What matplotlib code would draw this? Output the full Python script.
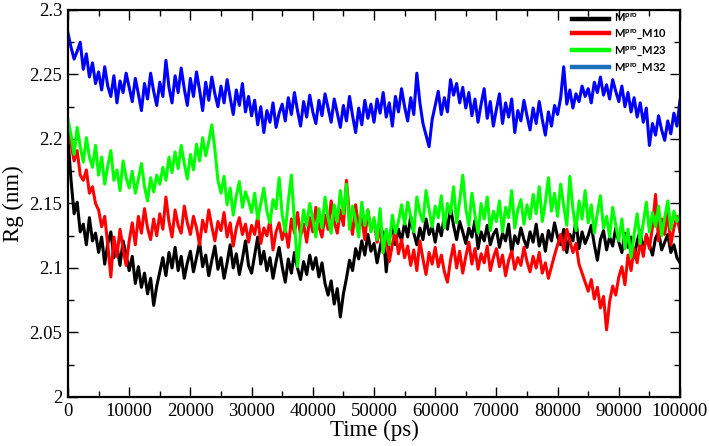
import numpy as np
import matplotlib.pyplot as plt
from matplotlib.lines import Line2D
from matplotlib.ticker import MultipleLocator, FuncFormatter

# time axis, one frame every 500 ps
time_ps = np.arange(0, 100001, 500)

rg_mpro = [
    2.200, 2.168, 2.142, 2.151, 2.128, 2.134, 2.118, 2.139, 2.121, 2.127,
    2.112, 2.124, 2.103, 2.119, 2.128, 2.108, 2.117, 2.102, 2.121, 2.110,
    2.098, 2.109, 2.088, 2.101, 2.085, 2.096, 2.080, 2.092, 2.071, 2.086,
    2.097, 2.108, 2.094, 2.112, 2.100, 2.116, 2.098, 2.109, 2.092, 2.104,
    2.113, 2.097, 2.108, 2.120, 2.101, 2.110, 2.094, 2.106, 2.117, 2.099,
    2.108, 2.092, 2.104, 2.118, 2.100, 2.111, 2.095, 2.107, 2.121, 2.102,
    2.096, 2.110, 2.124, 2.103, 2.113, 2.098, 2.108, 2.092, 2.105, 2.116,
    2.101, 2.089, 2.107, 2.096, 2.112, 2.100, 2.091, 2.105, 2.095, 2.110,
    2.099, 2.108, 2.093, 2.104, 2.088, 2.079, 2.090, 2.072, 2.084, 2.062,
    2.080, 2.092, 2.106, 2.098, 2.115, 2.107, 2.121, 2.110, 2.126, 2.113,
    2.119, 2.104, 2.116, 2.128, 2.097, 2.122, 2.134, 2.118, 2.130, 2.121,
    2.135, 2.124, 2.140, 2.127, 2.118, 2.131, 2.122, 2.138, 2.126, 2.132,
    2.120, 2.134, 2.125, 2.141, 2.130, 2.147, 2.133, 2.122, 2.136, 2.128,
    2.119, 2.131, 2.124, 2.137, 2.115, 2.128, 2.121, 2.133, 2.118, 2.126,
    2.130, 2.116, 2.127, 2.121, 2.134, 2.112, 2.125, 2.119, 2.131, 2.122,
    2.116, 2.128, 2.120, 2.134, 2.117, 2.126, 2.113, 2.129, 2.121, 2.135,
    2.124, 2.118, 2.130, 2.112, 2.126, 2.121, 2.137, 2.115, 2.128, 2.119,
    2.125, 2.133, 2.118, 2.106, 2.122, 2.129, 2.114, 2.124, 2.117, 2.131,
    2.120, 2.112, 2.127, 2.116, 2.124, 2.108, 2.121, 2.129, 2.113, 2.125,
    2.118, 2.110, 2.123, 2.128, 2.114, 2.120, 2.126, 2.112, 2.118, 2.108,
    2.104,
]

rg_m10 = [
    2.212, 2.196, 2.183, 2.191, 2.172, 2.168, 2.176, 2.158, 2.163, 2.150,
    2.145, 2.132, 2.140, 2.118, 2.093, 2.124, 2.109, 2.130, 2.115, 2.102,
    2.121, 2.135, 2.118, 2.140, 2.127, 2.146, 2.131, 2.122, 2.138, 2.125,
    2.142, 2.130, 2.155, 2.136, 2.124, 2.145, 2.133, 2.127, 2.148, 2.135,
    2.126, 2.140, 2.131, 2.118, 2.137, 2.128, 2.145, 2.132, 2.121, 2.136,
    2.129, 2.143, 2.124, 2.135, 2.117, 2.131, 2.139, 2.126, 2.134, 2.120,
    2.133, 2.126, 2.140, 2.119, 2.131, 2.125, 2.137, 2.114, 2.128, 2.135,
    2.122, 2.131, 2.116, 2.138, 2.127, 2.143, 2.125, 2.134, 2.120, 2.139,
    2.128, 2.147, 2.132, 2.124, 2.141, 2.130, 2.152, 2.136, 2.127, 2.145,
    2.133, 2.168, 2.140, 2.126, 2.149, 2.131, 2.138, 2.122, 2.145, 2.129,
    2.137, 2.120, 2.131, 2.112, 2.126, 2.105, 2.118, 2.129, 2.111, 2.122,
    2.108, 2.117, 2.102, 2.114, 2.098, 2.121, 2.107, 2.095, 2.112, 2.103,
    2.116, 2.101, 2.110, 2.097, 2.089, 2.106, 2.118, 2.100, 2.113, 2.096,
    2.109, 2.120, 2.103, 2.115, 2.099, 2.111, 2.104, 2.117, 2.098, 2.108,
    2.115, 2.101, 2.110, 2.094, 2.106, 2.113, 2.099, 2.108, 2.102, 2.116,
    2.105, 2.097, 2.109, 2.100, 2.112, 2.096, 2.104, 2.092, 2.101, 2.110,
    2.118, 2.126, 2.114, 2.130, 2.121, 2.112, 2.119, 2.103, 2.096, 2.089,
    2.082, 2.091, 2.076, 2.085, 2.069, 2.078, 2.052, 2.074, 2.086, 2.079,
    2.093, 2.101, 2.087, 2.110, 2.098, 2.115, 2.104, 2.121, 2.109, 2.126,
    2.115, 2.132, 2.157, 2.121, 2.138, 2.126, 2.144, 2.118, 2.131, 2.140,
    2.128,
]

rg_m23 = [
    2.215, 2.203, 2.188, 2.209, 2.194, 2.182, 2.201, 2.186, 2.178, 2.195,
    2.172, 2.186, 2.165, 2.179, 2.191, 2.168, 2.176, 2.160, 2.183, 2.170,
    2.162, 2.175, 2.158, 2.169, 2.181, 2.163, 2.152, 2.170, 2.159, 2.172,
    2.165, 2.178, 2.168, 2.186, 2.174, 2.190, 2.177, 2.195, 2.181, 2.169,
    2.188, 2.176, 2.196, 2.183, 2.201, 2.187, 2.198, 2.211, 2.192, 2.168,
    2.158, 2.171, 2.149, 2.162, 2.141, 2.156, 2.167, 2.147, 2.159, 2.152,
    2.143, 2.158, 2.138, 2.150, 2.162, 2.144, 2.135, 2.153, 2.146, 2.170,
    2.141, 2.128, 2.152, 2.172, 2.135, 2.101, 2.126, 2.145, 2.133, 2.150,
    2.138, 2.124, 2.146, 2.131, 2.155, 2.139, 2.127, 2.149, 2.136, 2.160,
    2.142, 2.165, 2.130, 2.148, 2.137, 2.124, 2.151, 2.133, 2.145, 2.128,
    2.139, 2.122, 2.146, 2.112, 2.130, 2.118, 2.141, 2.127, 2.136, 2.149,
    2.134, 2.151, 2.140, 2.128, 2.155, 2.143, 2.136, 2.160, 2.145, 2.132,
    2.148, 2.139, 2.156, 2.131, 2.150, 2.142, 2.163, 2.135, 2.152, 2.172,
    2.146, 2.133, 2.158, 2.141, 2.127, 2.150, 2.138, 2.155, 2.129, 2.144,
    2.136, 2.152, 2.128, 2.147, 2.139, 2.160, 2.131, 2.145, 2.153, 2.134,
    2.149, 2.138, 2.157, 2.142, 2.163, 2.136, 2.151, 2.170, 2.144, 2.158,
    2.140, 2.165, 2.148, 2.133, 2.171, 2.146, 2.129, 2.152, 2.138, 2.160,
    2.135, 2.149, 2.127, 2.143, 2.156, 2.131, 2.140, 2.124, 2.147, 2.133,
    2.121, 2.138, 2.115, 2.130, 2.108, 2.126, 2.142, 2.119, 2.135, 2.151,
    2.128, 2.143, 2.132, 2.148, 2.125, 2.139, 2.152, 2.130, 2.144, 2.136,
    2.141,
]

rg_m32 = [
    2.282, 2.271, 2.262, 2.268, 2.275, 2.254, 2.266, 2.248, 2.259, 2.243,
    2.252, 2.238, 2.256, 2.241, 2.233, 2.249, 2.228, 2.245, 2.236, 2.251,
    2.240, 2.229, 2.247, 2.235, 2.222, 2.243, 2.231, 2.251, 2.237, 2.226,
    2.244, 2.233, 2.261, 2.240, 2.228, 2.249, 2.236, 2.255, 2.239, 2.226,
    2.247, 2.233, 2.252, 2.238, 2.222, 2.244, 2.230, 2.248, 2.235, 2.225,
    2.241, 2.228, 2.246, 2.232, 2.219, 2.238, 2.226, 2.243, 2.221, 2.233,
    2.218, 2.230, 2.211, 2.225, 2.205, 2.222, 2.213, 2.228, 2.209, 2.220,
    2.227, 2.214, 2.232, 2.219, 2.236, 2.222, 2.210, 2.229, 2.217, 2.234,
    2.221, 2.212, 2.230, 2.218, 2.235, 2.224, 2.213, 2.231, 2.220, 2.209,
    2.226, 2.214, 2.233, 2.218, 2.205, 2.224, 2.211, 2.230, 2.216, 2.227,
    2.213, 2.231, 2.220, 2.236, 2.217, 2.228, 2.210, 2.233, 2.221, 2.239,
    2.225, 2.214, 2.232, 2.219, 2.251, 2.228, 2.212, 2.203, 2.194, 2.215,
    2.226, 2.237, 2.219, 2.232, 2.221, 2.246, 2.234, 2.243, 2.228, 2.240,
    2.224, 2.236, 2.218, 2.231, 2.213, 2.227, 2.239, 2.216, 2.229, 2.210,
    2.223, 2.235, 2.212, 2.228, 2.217, 2.231, 2.205, 2.222, 2.214, 2.230,
    2.218, 2.207, 2.224, 2.212, 2.229, 2.215, 2.203, 2.221, 2.210, 2.226,
    2.219, 2.232, 2.256, 2.227, 2.238, 2.224, 2.235, 2.229, 2.241, 2.233,
    2.239, 2.228, 2.244, 2.236, 2.248, 2.234, 2.242, 2.231, 2.246, 2.237,
    2.229, 2.241, 2.225, 2.236, 2.221, 2.232, 2.217, 2.228, 2.213, 2.224,
    2.195, 2.212, 2.203, 2.218, 2.207, 2.199, 2.214, 2.204, 2.220, 2.210,
    2.230,
]

series = [rg_mpro, rg_m10, rg_m23, rg_m32]
line_colors = ['black', 'red', '#00ff00', '#0000ff']
legend_colors = ['black', 'red', '#00ff00', '#1e70bf']
labels = ['M$^{pro}$', 'M$^{pro}$_M10', 'M$^{pro}$_M23', 'M$^{pro}$_M32']

plt.rcParams['font.family'] = 'Liberation Serif'
plt.rcParams['mathtext.default'] = 'regular'

fig = plt.figure(figsize=(7.09, 4.46), dpi=100)
ax = fig.add_axes([0.0959, 0.1099, 0.8632, 0.8677])

for vals, c in zip(series, line_colors):
    ax.plot(time_ps, vals, color=c, lw=2.2)

ax.set_xlim(0, 100000)
ax.set_ylim(2.0, 2.3)
ax.xaxis.set_major_locator(MultipleLocator(10000))
ax.xaxis.set_minor_locator(MultipleLocator(5000))
ax.yaxis.set_major_locator(MultipleLocator(0.05))
ax.yaxis.set_minor_locator(MultipleLocator(0.025))
fmt = FuncFormatter(lambda v, p: '%g' % round(v, 3))
ax.xaxis.set_major_formatter(fmt)
ax.yaxis.set_major_formatter(fmt)

ax.tick_params(which='both', direction='in', top=True, right=True,
               labelsize=13.5, width=1.0, pad=4)
ax.tick_params(which='major', length=7)
ax.tick_params(which='minor', length=4)
for s in ax.spines.values():
    s.set_linewidth(1.6)

ax.set_xlabel('Time (ps)', fontsize=16.5, labelpad=0)
ax.set_ylabel('Rg (nm)', fontsize=16.5, labelpad=4)

handles = [Line2D([], [], color=c, lw=3.2) for c in legend_colors]
ax.legend(handles, labels, loc='upper left',
          bbox_to_anchor=(572 / 709, 1 - 12 / 446), bbox_transform=fig.transFigure,
          frameon=False, borderpad=0, borderaxespad=0, handlelength=3.3,
          handletextpad=0.45, labelspacing=0.3,
          prop={'family': 'Lato', 'weight': 'bold', 'size': 8})

fig.savefig('out.png', dpi=100)
